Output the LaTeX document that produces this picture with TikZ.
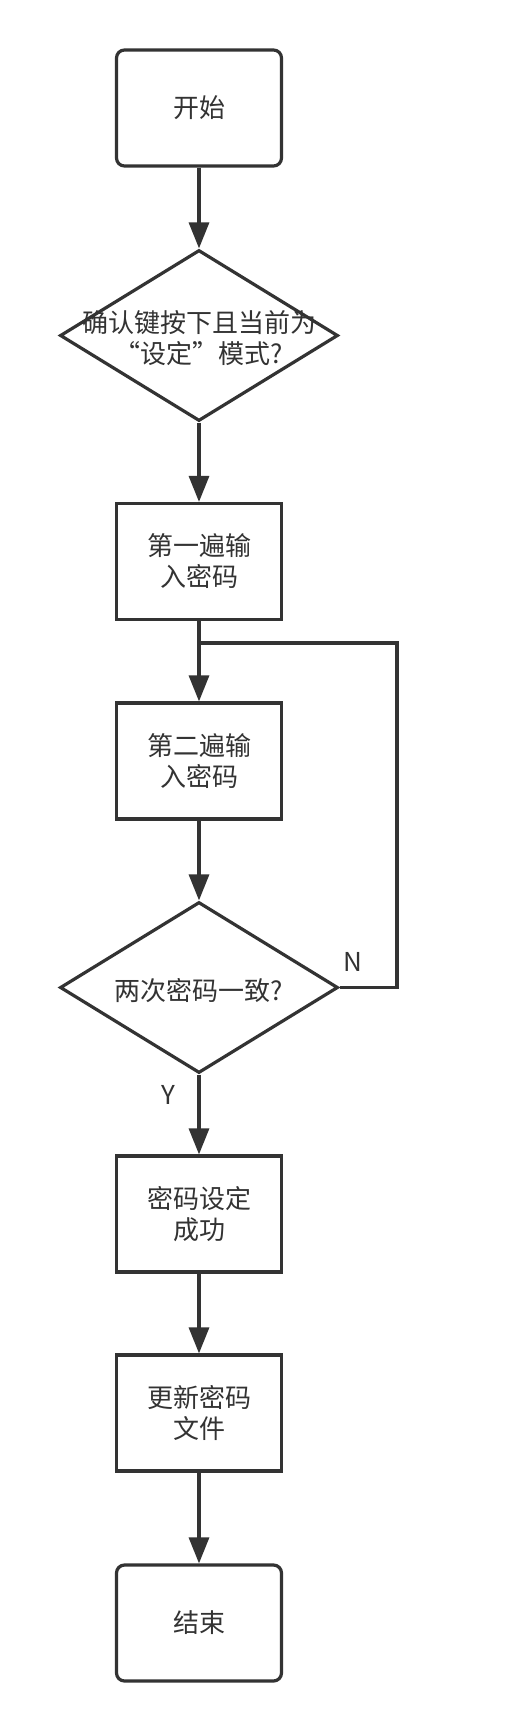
\documentclass[tikz,border=0pt]{standalone}
\usepackage{fontspec}
\setmainfont{Noto Sans CJK SC}
\usetikzlibrary{shapes.geometric,arrows.meta,positioning}
\definecolor{linegray}{HTML}{333333}

\begin{document}
\begin{tikzpicture}[x=1pt,y=-1pt,
		every node/.style={text=linegray,font=\fontsize{26}{31}\selectfont},
		box/.style={draw=linegray,line width=3.2pt,minimum width=165pt,minimum height=116pt,align=center,inner sep=0pt},
		term/.style={box,rounded corners=8pt},
		decision/.style={draw=linegray,line width=3.2pt,diamond,minimum width=278pt,minimum height=171pt,inner sep=0pt},
		flow/.style={draw=linegray,line width=3.2pt,-{Triangle[width=20pt,length=26pt]}}]
			\useasboundingbox[fill=white] (0,0) rectangle (524,1730);
			
			\node[term] (start) at (199,108) {开始};
			\node[decision,label={[align=center,yshift=-3pt]center:确认键按下且当前为\\“设定”模式?}] (d1) at (199,335.5) {};
			\node[box] (b1) at (199,561.5) {第一遍输\\入密码};
			\node[box] (b2) at (199,761) {第二遍输\\入密码};
			\node[decision,label={[align=center,yshift=-3pt]center:两次密码一致?}] (d2) at (199,987.5) {};
			\node[box] (b3) at (199,1214) {密码设定\\成功};
			\node[box] (b4) at (199,1413) {更新密码\\文件};
			\node[term] (stop) at (199,1623) {结束};
			
			\coordinate (merge) at (199,643);
			\coordinate (loop) at (397,643);
			
			\draw[flow] (start.south) -- (d1.north);
			\draw[flow] (d1.south) -- (b1.north);
			\draw[flow] (b1.south) -- (b2.north);
			\draw[flow] (b2.south) -- (d2.north);
			\draw[flow] (d2.south) -- (b3.north);
			\draw[flow] (b3.south) -- (b4.north);
			\draw[flow] (b4.south) -- (stop.north);
			\draw[draw=linegray,line width=3.2pt] (d2.east) -- (d2.east -| loop) |- (merge);
			
			\node (no) at (353,962) {N};
			\node (yes) at (168,1095) {Y};
		\end{tikzpicture}
\end{document}
